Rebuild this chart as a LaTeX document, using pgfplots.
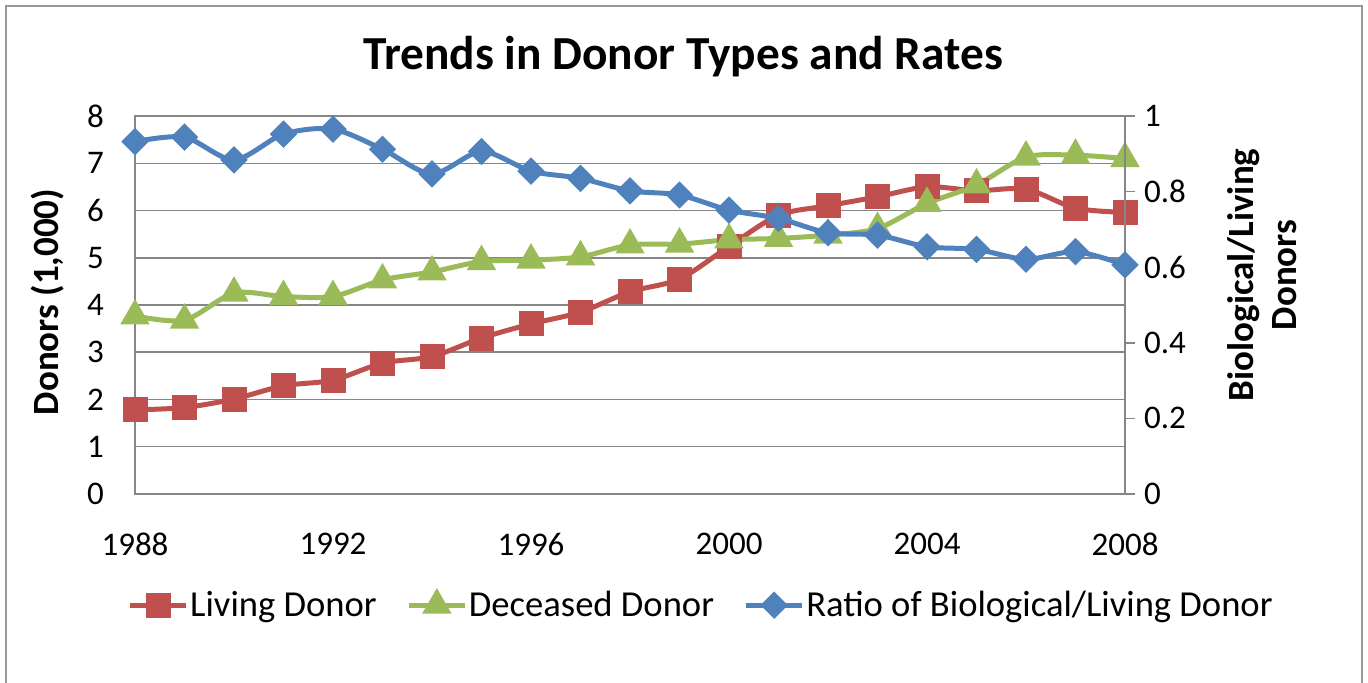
\documentclass[border=0pt]{standalone}
\usepackage{pgfplots}
\pgfplotsset{compat=1.18}
\usepackage{fontspec}
\setmainfont{Carlito}
\definecolor{cred}{HTML}{C0504D}
\definecolor{cgreen}{HTML}{9BBB59}
\definecolor{cblue}{HTML}{4F81BD}
\definecolor{cgrid}{HTML}{868686}
\pgfplotstableread{
year living deceased ratio
1988 1.78 3.77 0.932
1989 1.83 3.68 0.944
1990 2.01 4.25 0.884
1991 2.29 4.18 0.952
1992 2.41 4.18 0.965
1993 2.77 4.53 0.912
1994 2.91 4.70 0.847
1995 3.30 4.92 0.906
1996 3.60 4.95 0.854
1997 3.85 5.02 0.835
1998 4.28 5.27 0.802
1999 4.55 5.29 0.791
2000 5.24 5.38 0.751
2001 5.90 5.41 0.729
2002 6.10 5.48 0.691
2003 6.29 5.62 0.685
2004 6.50 6.15 0.654
2005 6.42 6.54 0.647
2006 6.45 7.13 0.621
2007 6.05 7.17 0.641
2008 5.96 7.10 0.606
}\datatable
\begin{document}
\begin{tikzpicture}[x=1pt,y=1pt]
\useasboundingbox (0,0) rectangle (684,341.5);
\draw[cgrid!85, line width=1pt] (3,0) -- (3,338.5) -- (681,338.5) -- (681,0);
\begin{axis}[
  at={(67.5pt,94.5pt)}, anchor=south west,
  scale only axis, width=495pt, height=189pt,
  xmin=1988, xmax=2008, ymin=0, ymax=8,
  xtick={1988,1992,1996,2000,2004,2008}, ytick={0,1,2,3,4,5,6,7,8},
  major tick length=0pt,
  axis line style={cgrid, line width=0.8pt},
  ymajorgrids, grid style={cgrid, line width=0.75pt},
  tick label style={font=\fontsize{16.5}{19}\selectfont},
  /pgf/number format/assume math mode=true,
  /pgf/number format/1000 sep={},
  xticklabel style={yshift=-16pt},
  yticklabel style={xshift=-12pt},
  clip=false,
]
\addplot[cred, line width=2.5pt, smooth, mark=square*, mark size=5pt, mark options={solid}] table[x=year,y=living] {\datatable};
\addplot[cgreen, line width=2.5pt, smooth, mark=triangle*, mark size=6pt, mark options={solid}] table[x=year,y=deceased] {\datatable};
\end{axis}
\begin{axis}[
  at={(67.5pt,94.5pt)}, anchor=south west,
  scale only axis, width=495pt, height=189pt,
  xmin=1988, xmax=2008, ymin=0, ymax=1,
  axis x line=none, axis y line*=right,
  ytick={0,0.2,0.4,0.6,0.8,1},
  yticklabels={0,0.2,0.4,0.6,0.8,1},
  tick align=outside, major tick length=5pt,
  tick style={cgrid, line width=0.8pt},
  axis line style={cgrid, line width=0.8pt, -},
  tick label style={font=\fontsize{16.5}{19}\selectfont},
  yticklabel style={xshift=1pt},
  clip=false,
  legend columns=3,
  legend style={at={(0.5717,-0.294)}, anchor=center, draw=none, fill=none,
    font=\fontsize{18.3}{21}\selectfont,
    nodes={inner xsep=0.8pt},
    /tikz/every even column/.append style={column sep=14pt},
    inner sep=0pt},
  legend image code/.code={\draw[mark repeat=2,mark phase=2] plot coordinates {(0pt,0pt)(14pt,0pt)(28pt,0pt)};},
]
\addlegendimage{cred, line width=2.5pt, mark=square*, mark size=5pt}
\addlegendentry{Living Donor}
\addlegendimage{cgreen, line width=2.5pt, mark=triangle*, mark size=6pt}
\addlegendentry{Deceased Donor}
\addplot[cblue, line width=2.5pt, smooth, mark=square*, mark size=3.6pt, mark options={rotate=45}] table[x=year,y=ratio] {\datatable};
\addlegendentry{Ratio of Biological/Living Donor}
\end{axis}
\node[font=\bfseries\fontsize{23.7}{28}\selectfont] at (341.5,313) {Trends in Donor Types and Rates};
\node[rotate=90, font=\bfseries\fontsize{18.5}{21}\selectfont] at (24,190.5) {Donors (1,000)};
\node[rotate=90, align=center, font=\bfseries\fontsize{18.5}{21.5}\selectfont] at (631,204) {Biological/Living\\Donors};
\end{tikzpicture}
\end{document}
